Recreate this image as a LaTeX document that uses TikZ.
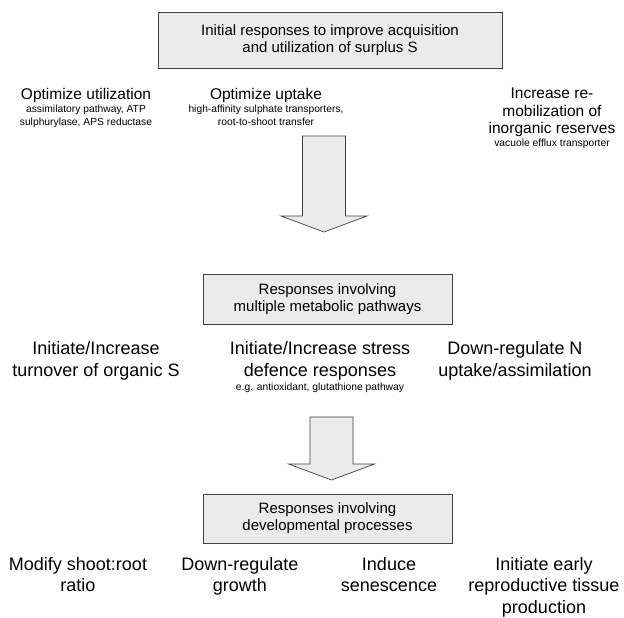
\documentclass[tikz,border=0pt]{standalone}
\usepackage{fontspec}
\setmainfont{Liberation Sans}
\usetikzlibrary{calc}
\usetikzlibrary{shadows}
\usetikzlibrary{positioning}

\tikzset{
  resbox/.style={rectangle, draw=black!75, line width=0.7pt, fill=black!8, align=center,
    drop shadow={shadow xshift=0.8pt, shadow yshift=-0.8pt, fill=black!55, opacity=1},
    font=\fontsize{15}{17}\selectfont},
  toplabel/.style={align=center, inner sep=0pt, font=\fontsize{15.5}{17.5}\selectfont},
  biglabel/.style={align=center, inner sep=0pt, font=\fontsize{18}{21.5}\selectfont},
  smalllabel/.style={align=center, inner sep=0pt, font=\fontsize{10.3}{13}\selectfont},
  blockarrow/.style={draw=black!75, line width=0.7pt, fill=black!8, line join=miter}
}

% block arrow: #1 top of shaft, #2 tip
\newcommand{\downarrowblock}[2]{%
  \draw[blockarrow] ($(#1)+(-21.5,0)$) -- ($(#1)+(21.5,0)$) -- ($(#2)+(21.5,-16)$)
    -- ($(#2)+(43,-16)$) -- (#2) -- ($(#2)+(-43,-16)$) -- ($(#2)+(-21.5,-16)$) -- cycle;}

\begin{document}
\begin{tikzpicture}[x=1pt, y=-1pt]
\useasboundingbox (0,0) rectangle (624,618);

% top level
\node[resbox, minimum width=344pt, minimum height=56pt] (initial) at (330,40) {Initial responses to improve acquisition\\and utilization of surplus S};

\node[toplabel] (util) at (86,95) {Optimize utilization};
\node[smalllabel, below=2pt of util] (utilsub) {assimilatory pathway, ATP\\sulphurylase, APS reductase};
\node[toplabel] (uptake) at (266,95) {Optimize uptake};
\node[smalllabel, below=2pt of uptake] (uptakesub) {high-affinity sulphate transporters,\\root-to-shoot transfer};
\node[toplabel, anchor=north] (remob) at (552,88) {Increase re-\\mobilization of\\inorganic reserves};
\node[smalllabel, below=2pt of remob] (remobsub) {vacuole efflux transporter};

% middle level
\coordinate (arrowAtop) at (324,136);
\coordinate (arrowAtip) at (324,232);
\downarrowblock{arrowAtop}{arrowAtip}

\node[resbox, minimum width=249pt, minimum height=50pt] (multiple) at (327.5,299) {Responses involving\\multiple metabolic pathways};

\node[biglabel] (turnover) at (96,361) {Initiate/Increase\\turnover of organic S};
\node[biglabel] (stress) at (320,361) {Initiate/Increase stress\\defence responses};
\node[smalllabel, below=2pt of stress] (stresssub) {e.g. antioxidant, glutathione pathway};
\node[biglabel] (nitrogen) at (515,361) {Down-regulate N\\uptake/assimilation};

% bottom level
\coordinate (arrowBtop) at (331.5,417);
\coordinate (arrowBtip) at (331.5,480);
\downarrowblock{arrowBtop}{arrowBtip}

\node[resbox, minimum width=249pt, minimum height=49pt] (develop) at (327.5,518.5) {Responses involving\\developmental processes};

\node[biglabel, anchor=north] (shoot) at (78,557) {Modify shoot:root\\ratio};
\node[biglabel, anchor=north] (growth) at (240,557) {Down-regulate\\growth};
\node[biglabel, anchor=north] (senesc) at (389,557) {Induce\\senescence};
\node[biglabel, anchor=north] (repro) at (544,557) {Initiate early\\reproductive tissue\\production};
\end{tikzpicture}
\end{document}
